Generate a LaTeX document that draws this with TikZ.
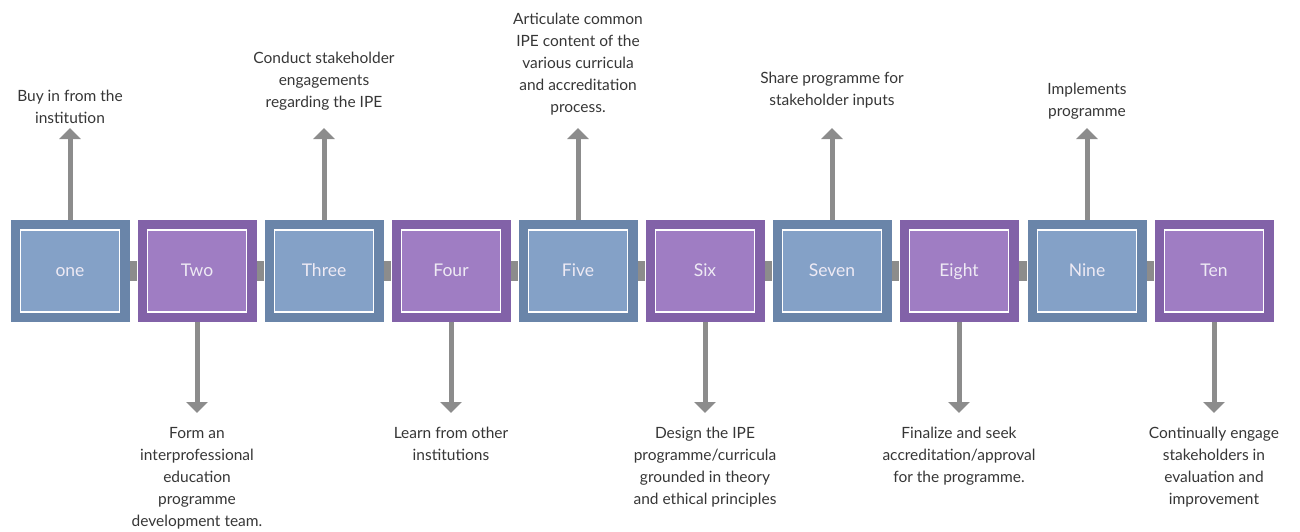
\documentclass[tikz,border=0pt]{standalone}
\usepackage{fontspec}
\setmainfont{Lato}
\usetikzlibrary{arrows.meta}
\definecolor{bOut}{HTML}{6A85A9}
\definecolor{bIn}{HTML}{84A1C7}
\definecolor{pOut}{HTML}{8262A8}
\definecolor{pIn}{HTML}{9F7DC3}
\definecolor{barg}{HTML}{8C8C8C}
\definecolor{txt}{HTML}{363636}
\definecolor{lbl}{HTML}{EEEAF4}
\tikzset{
  outerbox/.style={minimum width=119pt, minimum height=102pt, inner sep=0pt, draw=none},
  innerbox/.style={minimum width=99pt, minimum height=82pt, inner sep=0pt, draw=white, line width=1.6pt, text=lbl, text height=11pt, text depth=-1pt, font=\fontsize{17.5}{20}\selectfont},
  bar/.style={draw=barg, line width=20pt},
  arr/.style={draw=barg, line width=5pt, -{Triangle[width=21pt,length=11pt]}},
  note/.style={align=center, text=txt, font=\fontsize{15.5}{22}\selectfont, inner sep=0pt},
}
\begin{document}
\begin{tikzpicture}[x=1pt,y=-1pt]
\useasboundingbox (0,0) rectangle (1300,532);
% boxes
\foreach \n/\x/\lab/\o/\i in {1/70/one/bOut/bIn, 2/197/Two/pOut/pIn, 3/324/Three/bOut/bIn, 4/451/Four/pOut/pIn, 5/578/Five/bOut/bIn, 6/705/Six/pOut/pIn, 7/832/Seven/bOut/bIn, 8/959/Eight/pOut/pIn, 9/1087/Nine/bOut/bIn, 10/1214/Ten/pOut/pIn}{
  \node[outerbox, fill=\o] (b\n) at (\x,271) {};
}
% bars
\foreach \a/\b in {1/2,2/3,3/4,4/5,5/6,6/7,7/8,8/9,9/10}{
  \draw[bar] (b\a.east) -- (b\b.west);
}
\foreach \n/\x/\lab/\o/\i in {1/70/one/bOut/bIn, 2/197/Two/pOut/pIn, 3/324/Three/bOut/bIn, 4/451/Four/pOut/pIn, 5/578/Five/bOut/bIn, 6/705/Six/pOut/pIn, 7/832/Seven/bOut/bIn, 8/959/Eight/pOut/pIn, 9/1087/Nine/bOut/bIn, 10/1214/Ten/pOut/pIn}{
  \node[innerbox, fill=\i] (in\n) at (\x,271) {\lab};
}
% top notes
\node[note, anchor=south] (t1) at (70,124) {Buy in from the\\institution};
\node[note, anchor=south] (t3) at (324,111) {Conduct stakeholder\\engagements\\regarding the IPE};
\node[note, anchor=south] (t5) at (578,115) {Articulate common\\IPE content of the\\various curricula\\and accreditation\\process.};
\node[note, anchor=south] (t7) at (832,108) {Share programme for\\stakeholder inputs};
\node[note, anchor=south] (t9) at (1087,120) {Implements\\programme};
% bottom notes
\node[note, anchor=north] (u2) at (197,427) {Form an\\interprofessional\\education\\programme\\development team.};
\node[note, anchor=north] (u4) at (451,427) {Learn from other\\institutions};
\node[note, anchor=north] (u6) at (705,427) {Design the IPE\\programme/curricula\\grounded in theory\\and ethical principles};
\node[note, anchor=north] (u8) at (959,427) {Finalize and seek\\accreditation/approval\\for the programme.};
\node[note, anchor=north] (u10) at (1214,427) {Continually engage\\stakeholders in\\evaluation and\\improvement};
% arrow ends
\foreach \n/\x in {1/70,3/324,5/578,7/832,9/1087}{
  \coordinate (ue\n) at (\x,128);
  \draw[arr] (b\n.north) -- (ue\n);
}
\foreach \n/\x in {2/197,4/451,6/705,8/959,10/1214}{
  \coordinate (de\n) at (\x,413);
  \draw[arr] (b\n.south) -- (de\n);
}
\end{tikzpicture}
\end{document}
